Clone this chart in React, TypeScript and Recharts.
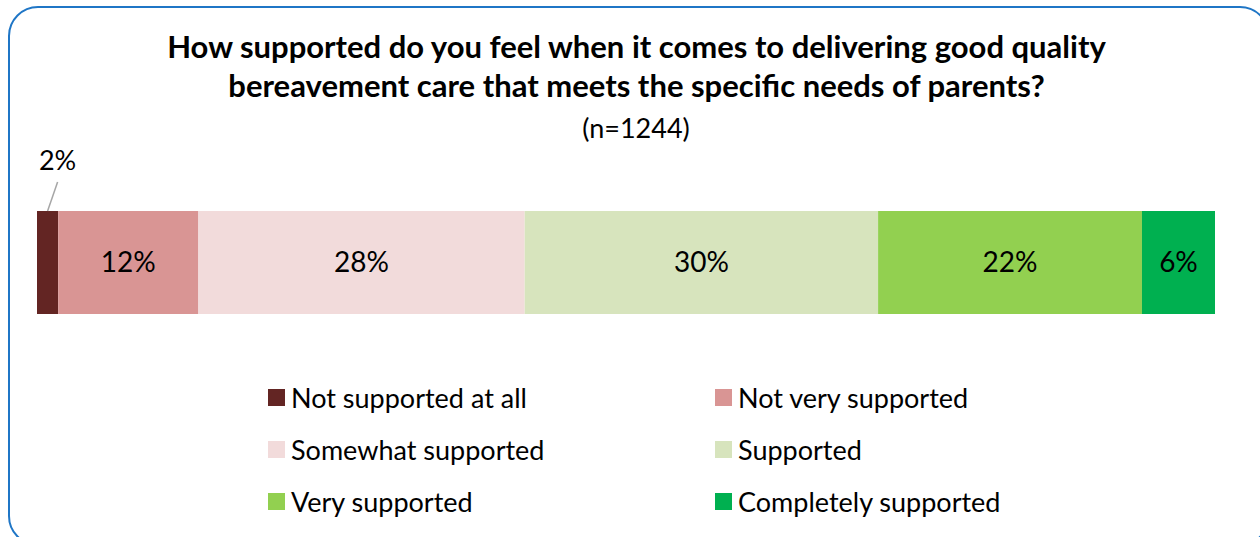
import { BarChart, Bar, XAxis, YAxis, LabelList } from 'recharts';

const categories = [
  'Not supported at all',
  'Not very supported',
  'Somewhat supported',
  'Supported',
  'Very supported',
  'Completely supported',
];
const values = [1.8, 11.9, 27.7, 30.0, 22.4, 6.2];
const colors = ['#632523', '#d99594', '#f2dbdb', '#d7e4bd', '#92d050', '#00b050'];

const keys = categories.map((_, i) => 's' + i);
const row: Record<string, number | string> = { name: 'all' };
keys.forEach((k, i) => {
  row[k] = values[i];
});
const data = [row];

const FONT = 'Lato, "Open Sans", sans-serif';

const pct = (v: any) => Math.round(Number(v)) + '%';

// small first segment: label sits above with a leader line
const OutsideLabel = (props: any) => {
  const { x, y, width, value } = props;
  const cx = Number(x) + Number(width) / 2;
  return (
    <g>
      <line x1={cx + 10} y1={y - 29} x2={cx} y2={y} stroke="#a6a6a6" strokeWidth={1.5} />
      <text x={cx + 10} y={y - 41} textAnchor="middle" fontSize={27} fontFamily={FONT} fill="#000">
        {pct(value)}
      </text>
    </g>
  );
};

const LegendGrid = () => (
  <div style={{ position: 'absolute', left: 0, top: 380, width: 1260, height: 160 }}>
    {categories.map((c, i) => {
      const col = i % 2;
      const r = Math.floor(i / 2);
      return (
        <div
          key={c}
          style={{
            position: 'absolute',
            left: col === 0 ? 268 : 715,
            top: r * 52,
            height: 34,
            display: 'flex',
            alignItems: 'center',
            fontFamily: FONT,
            fontSize: 27,
            color: '#000',
            whiteSpace: 'nowrap',
          }}
        >
          <span style={{ display: 'inline-block', width: 17, height: 17, background: colors[i], marginRight: 6 }} />
          {c}
        </div>
      );
    })}
  </div>
);

export default function App() {
  return (
    <div style={{ position: 'absolute', left: 0, top: 0, width: 1260, height: 537, overflow: 'hidden', background: '#fff' }}>
      <div
        style={{
          position: 'absolute',
          left: 8,
          top: 6,
          width: 1262,
          height: 540,
          border: '2px solid #1f76c6',
          borderRadius: 30,
          boxSizing: 'border-box',
        }}
      />
      <div
        style={{
          position: 'absolute',
          left: 0,
          top: 27,
          width: 1273,
          textAlign: 'center',
          fontFamily: FONT,
          fontWeight: 'bold',
          fontSize: 31,
          lineHeight: '39px',
          color: '#000',
        }}
      >
        How supported do you feel when it comes to delivering good quality
        <br />
        bereavement care that meets the specific needs of parents?
      </div>
      <div
        style={{
          position: 'absolute',
          left: 0,
          top: 111,
          width: 1272,
          textAlign: 'center',
          fontFamily: FONT,
          fontSize: 27,
          color: '#000',
        }}
      >
        (n=1244)
      </div>
      <div style={{ position: 'absolute', left: 0, top: 0 }}>
        <BarChart
          width={1260}
          height={537}
          data={data}
          layout="vertical"
          margin={{ top: 211, right: 45, bottom: 223, left: 37 }}
          barCategoryGap={0}
        >
          <XAxis type="number" domain={[0, 100]} hide />
          <YAxis type="category" dataKey="name" hide />
          {keys.map((k, i) => (
            <Bar
              key={k}
              dataKey={k}
              name={categories[i]}
              stackId="a"
              fill={colors[i]}
              isAnimationActive={false}
            >
              {i === 0 ? (
                <LabelList dataKey={k} content={<OutsideLabel />} />
              ) : (
                <LabelList
                  dataKey={k}
                  position="center"
                  formatter={pct}
                  fill="#000"
                  fontSize={28}
                  fontFamily={FONT}
                />
              )}
            </Bar>
          ))}
        </BarChart>
      </div>
      <LegendGrid />
    </div>
  );
}
